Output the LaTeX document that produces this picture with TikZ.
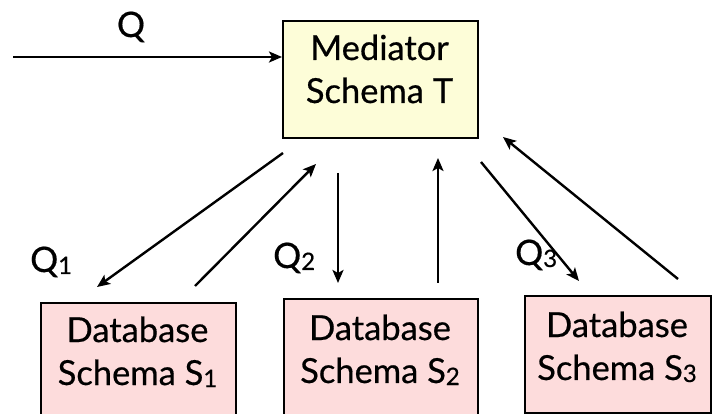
\documentclass[tikz,border=0pt]{standalone}
\usepackage{fontspec}
\setmainfont{Lato}
\newfontfamily\labelfont{Lato}[FakeBold=0.5]
\usetikzlibrary{arrows.meta}
\definecolor{medfill}{HTML}{FDFDD8}
\definecolor{dbfill}{HTML}{FDDCDC}
% small index digit sitting just under the baseline
\newcommand{\idx}[1]{\raisebox{-2pt}{\fontsize{24}{24}\selectfont #1}}
\tikzset{
  box/.style={draw=black, line width=2.4pt, inner sep=0pt, anchor=north west},
  medbox/.style={box, fill=medfill},
  dbbox/.style={box, fill=dbfill},
  boxtext/.style={align=center, font=\labelfont\fontsize{34.5}{43}\selectfont, inner sep=0pt},
  qlabel/.style={font=\labelfont\fontsize{35}{40}\selectfont, inner sep=0pt},
  flow/.style={line width=2.4pt, -{Stealth[length=13pt, width=11pt, inset=3pt]}},
}
\begin{document}
\begin{tikzpicture}[x=1pt, y=-1pt]
  \useasboundingbox (0,0) rectangle (713,414);
  \clip (0,0) rectangle (713,414);

  % boxes
  \node[medbox, minimum width=195pt, minimum height=117pt] (med) at (282,20) {};
  \node[dbbox, minimum width=195pt, minimum height=130pt] (s1) at (40,302) {};
  \node[dbbox, minimum width=194pt, minimum height=130pt] (s2) at (283,298) {};
  \node[dbbox, minimum width=186pt, minimum height=117pt] (s3) at (524,295) {};

  % box texts (base anchor = baseline of the last line)
  \node[boxtext, anchor=base] (medt) at (379.5,103) {Mediator\\Schema T};
  \node[boxtext, anchor=base] (s1t) at (137.5,385) {Database\\Schema S\idx{1}};
  \node[boxtext, anchor=base] (s2t) at (380,383) {Database\\Schema S\idx{2}};
  \node[boxtext, anchor=base] (s3t) at (617,380) {Database\\Schema S\idx{3}};

  % query labels
  \node[qlabel, anchor=base] (q)  at (131,37) {Q};
  \node[qlabel, anchor=base west] (q1) at (30,272) {Q\idx{1}};
  \node[qlabel, anchor=base west] (q2) at (273,268) {Q\idx{2}};
  \node[qlabel, anchor=base west] (q3) at (515,265) {Q\idx{3}};

  % connector end points
  \coordinate (qin) at (13,57);
  \coordinate (a1s) at (283,153);  \coordinate (a1e) at (97,287);
  \coordinate (a2s) at (195,286);  \coordinate (a2e) at (316,164);
  \coordinate (a3s) at (338,173);  \coordinate (a3e) at (338,283);
  \coordinate (a4s) at (438,283);  \coordinate (a4e) at (438,158);
  \coordinate (a5s) at (481,162);  \coordinate (a5e) at (579,281);
  \coordinate (a6s) at (678,279);  \coordinate (a6e) at (503,137);

  % connectors
  \draw[flow] (qin) -- (med.west |- qin);
  \draw[flow] (a1s) -- (a1e);
  \draw[flow] (a2s) -- (a2e);
  \draw[flow] (a3s) -- (a3e);
  \draw[flow] (a4s) -- (a4e);
  \draw[flow] (a5s) -- (a5e);
  \draw[flow] (a6s) -- (a6e);
\end{tikzpicture}
\end{document}
